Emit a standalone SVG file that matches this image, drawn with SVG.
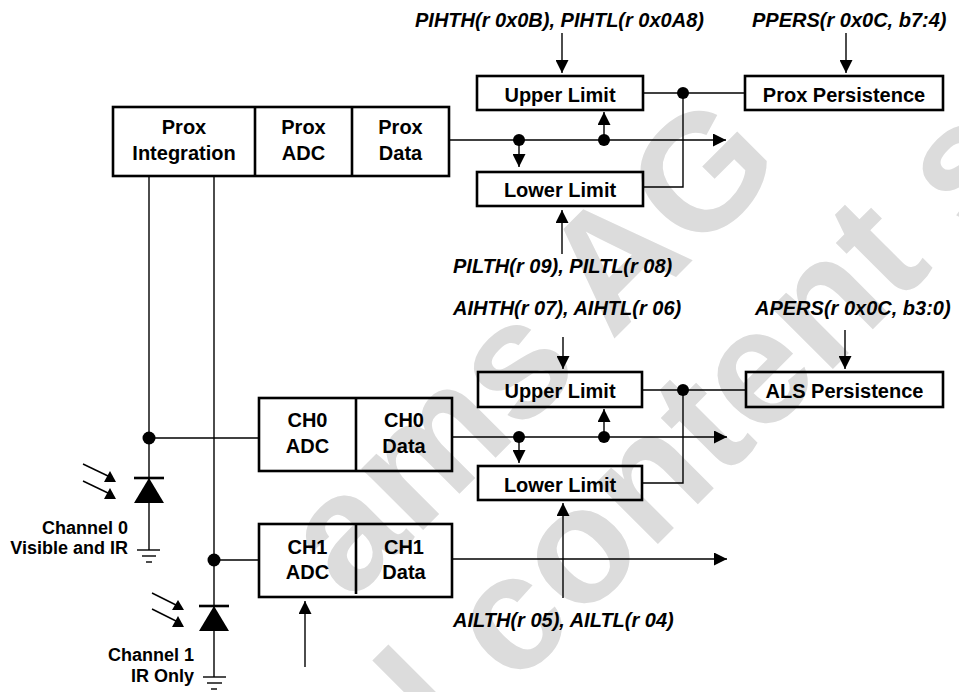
<svg xmlns="http://www.w3.org/2000/svg" width="959" height="692" viewBox="0 0 959 692">
<style>
.bx{fill:none;stroke:#000;stroke-width:2.6}
.ln{fill:none;stroke:#000;stroke-width:1.4}
.t{font-family:"Liberation Sans",Arial,sans-serif;font-weight:bold;font-size:20px;text-anchor:middle;fill:#000}
.lbl{font-family:"Liberation Sans",Arial,sans-serif;font-weight:bold;font-style:italic;font-size:20px;fill:#000}
.side{font-family:"Liberation Sans",Arial,sans-serif;font-weight:bold;font-size:18px;text-anchor:end;fill:#000}
.wm{font-family:"Liberation Sans",Arial,sans-serif;font-weight:bold;font-size:165px;fill:#dcdcdc}
.dot{fill:#000}
</style>
<defs>
<marker id="ah" markerUnits="userSpaceOnUse" markerWidth="13" markerHeight="13" refX="13" refY="6.5" orient="auto"><path d="M0,0 L13,6.5 L0,13 Z" fill="#000"/></marker>
</defs>
<rect width="959" height="692" fill="#fff"/>
<g id="watermark" transform="rotate(-45)">
<text class="wm" x="-179" y="674">ams AG</text>
<text class="wm" x="-307" y="850">al content st</text>
</g>

<g id="prox">
<rect class="bx" x="113" y="107" width="336" height="69"/>
<line class="bx" x1="255" y1="107" x2="255" y2="176"/>
<line class="bx" x1="352" y1="107" x2="352" y2="176"/>
<text class="t" x="184" y="134">Prox</text><text class="t" x="184" y="160">Integration</text>
<text class="t" x="303.5" y="134">Prox</text><text class="t" x="303.5" y="160">ADC</text>
<text class="t" x="400.5" y="134">Prox</text><text class="t" x="400.5" y="160">Data</text>
</g>
<g id="prox-upper"><rect class="bx" x="477" y="76" width="166" height="34"/><text class="t" x="560" y="101.5">Upper Limit</text></g>
<g id="prox-lower"><rect class="bx" x="477" y="172" width="166" height="34"/><text class="t" x="560" y="197">Lower Limit</text></g>
<g id="prox-pers"><rect class="bx" x="745" y="76" width="198" height="34"/><text class="t" x="844" y="101.5">Prox Persistence</text></g>

<g id="ch0">
<rect class="bx" x="259" y="398" width="193" height="73"/>
<line class="bx" x1="356" y1="398" x2="356" y2="471"/>
<text class="t" x="307.5" y="427">CH0</text><text class="t" x="307.5" y="453">ADC</text>
<text class="t" x="404" y="427">CH0</text><text class="t" x="404" y="453">Data</text>
</g>
<g id="ch1">
<rect class="bx" x="259" y="524" width="193" height="73"/>
<line class="bx" x1="356" y1="524" x2="356" y2="594"/>
<text class="t" x="307.5" y="554">CH1</text><text class="t" x="307.5" y="579">ADC</text>
<text class="t" x="404" y="554">CH1</text><text class="t" x="404" y="579">Data</text>
</g>
<g id="als-upper"><rect class="bx" x="478" y="372" width="164" height="35"/><text class="t" x="560" y="398">Upper Limit</text></g>
<g id="als-lower"><rect class="bx" x="478" y="466" width="164" height="34"/><text class="t" x="560" y="492">Lower Limit</text></g>
<g id="als-pers"><rect class="bx" x="746" y="372" width="197" height="35"/><text class="t" x="844.5" y="398">ALS Persistence</text></g>

<g id="labels">
<text class="lbl" x="415" y="27">PIHTH(r 0x0B), PIHTL(r 0x0A8)</text>
<text class="lbl" x="752" y="27">PPERS(r 0x0C, b7:4)</text>
<text class="lbl" x="453" y="273">PILTH(r 09), PILTL(r 08)</text>
<text class="lbl" x="453" y="315">AIHTH(r 07), AIHTL(r 06)</text>
<text class="lbl" x="755" y="315">APERS(r 0x0C, b3:0)</text>
<text class="lbl" x="453" y="627">AILTH(r 05), AILTL(r 04)</text>
<text class="side" x="128" y="534">Channel 0</text>
<text class="side" x="128" y="554">Visible and IR</text>
<text class="side" x="194" y="661">Channel 1</text>
<text class="side" x="194" y="682">IR Only</text>
</g>

<g id="photodiode0">
<line class="bx" x1="134" y1="478" x2="164" y2="478"/>
<polygon points="149,478 134,503 164,503" fill="#000"/>
<line class="ln" x1="83" y1="464" x2="108" y2="476"/>
<polygon points="110,471 104,482 116,482" fill="#000"/>
<line class="ln" x1="83" y1="481" x2="108" y2="493"/>
<polygon points="110,488 104,499 116,499" fill="#000"/>
<line class="ln" x1="137" y1="550" x2="160" y2="550"/>
<line class="ln" x1="142" y1="556" x2="156" y2="556"/>
<line class="ln" x1="146" y1="562" x2="152" y2="562"/>
</g>
<g id="photodiode1">
<line class="bx" x1="199" y1="606" x2="229" y2="606"/>
<polygon points="214,606 199,631 229,631" fill="#000"/>
<line class="ln" x1="152" y1="593" x2="176" y2="605"/>
<polygon points="178,600 172,610 184,610" fill="#000"/>
<line class="ln" x1="152" y1="609" x2="176" y2="621"/>
<polygon points="178,616 172,627 184,627" fill="#000"/>
<line class="ln" x1="203" y1="677" x2="226" y2="677"/>
<line class="ln" x1="207" y1="683" x2="222" y2="683"/>
<line class="ln" x1="211" y1="689" x2="217" y2="689"/>
</g>

<g id="connectors">
<line class="ln" x1="643" y1="93" x2="745" y2="93"/>
<polyline class="ln" points="683,93 683,187 643,187"/>
<line class="ln" x1="449" y1="140" x2="726" y2="140" marker-end="url(#ah)"/>
<line class="ln" x1="519" y1="140" x2="519" y2="167" marker-end="url(#ah)"/>
<line class="ln" x1="604" y1="140" x2="604" y2="112" marker-end="url(#ah)"/>
<line class="ln" x1="562" y1="33" x2="562" y2="73" marker-end="url(#ah)"/>
<line class="ln" x1="846" y1="33" x2="846" y2="73" marker-end="url(#ah)"/>
<line class="ln" x1="562" y1="254" x2="562" y2="210" marker-end="url(#ah)"/>
<circle class="dot" cx="683" cy="93" r="6"/>
<circle class="dot" cx="519" cy="140" r="6"/>
<circle class="dot" cx="604" cy="140" r="6"/>
<line class="ln" x1="642" y1="390" x2="746" y2="390"/>
<polyline class="ln" points="683,390 683,483 642,483"/>
<line class="ln" x1="452" y1="437" x2="727" y2="437" marker-end="url(#ah)"/>
<line class="ln" x1="519" y1="437" x2="519" y2="463" marker-end="url(#ah)"/>
<line class="ln" x1="604" y1="437" x2="604" y2="409" marker-end="url(#ah)"/>
<line class="ln" x1="563" y1="337" x2="563" y2="369" marker-end="url(#ah)"/>
<line class="ln" x1="845" y1="330" x2="845" y2="369" marker-end="url(#ah)"/>
<line class="ln" x1="563" y1="598" x2="563" y2="503" marker-end="url(#ah)"/>
<circle class="dot" cx="683" cy="390" r="6"/>
<circle class="dot" cx="519" cy="437" r="6"/>
<circle class="dot" cx="604" cy="437" r="6"/>
<line class="ln" x1="452" y1="559" x2="727" y2="559" marker-end="url(#ah)"/>
<line class="ln" x1="305" y1="667" x2="305" y2="601" marker-end="url(#ah)"/>
<line class="ln" x1="149" y1="176" x2="149" y2="550"/>
<line class="ln" x1="214" y1="176" x2="214" y2="677"/>
<line class="ln" x1="149" y1="438" x2="259" y2="438"/>
<line class="ln" x1="214" y1="560" x2="259" y2="560"/>
<circle class="dot" cx="149" cy="438" r="6.5"/>
<circle class="dot" cx="214" cy="560" r="6.5"/>
</g>
</svg>
